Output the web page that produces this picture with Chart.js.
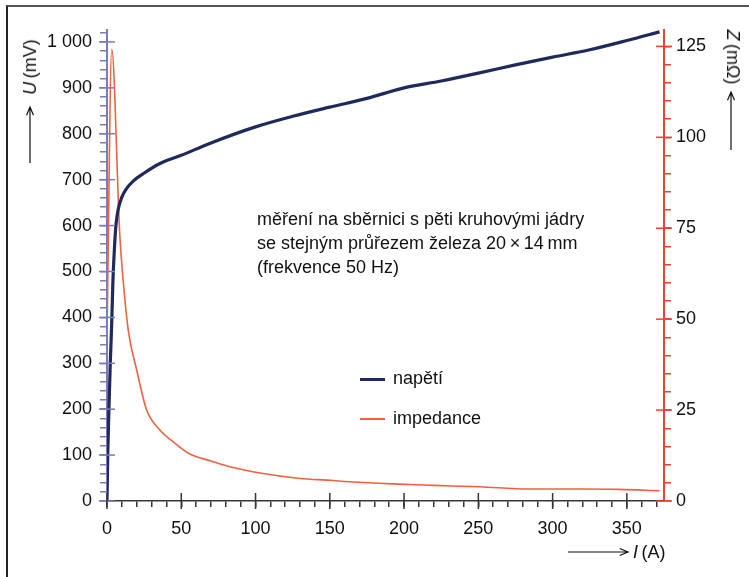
<!DOCTYPE html>
<html lang="cs">
<head>
<meta charset="utf-8">
<script src="https://cdn.jsdelivr.net/npm/chart.js@4.4.1/dist/chart.umd.min.js"></script>
<style>
  body { margin: 0; background: #fff; font-family: "Liberation Sans", Arial, sans-serif; }
  #wrap { position: relative; width: 749px; height: 577px; overflow: hidden; }
  #frame { position: absolute; left: 6px; top: 5px; right: -4px; bottom: -4px;
           border-top: 2px solid #555; border-left: 2px solid #222; }
  canvas { position: absolute; left: 0; top: 0; }
  .t { position: absolute; color: #111; font-size: 18px; white-space: nowrap; line-height: 24px; }
  .rot { transform-origin: center center; }
  .key { display: inline-block; width: 25px; vertical-align: middle; margin-right: 8px; }
</style>
</head>
<body>
<div id="wrap">
  <div id="frame"></div>
  <canvas id="chart" width="749" height="577"></canvas>

  <div class="t rot" style="left:30px;top:67px;transform:translate(-50%,-50%) rotate(-90deg);"><i>U</i>&#8201;(mV)</div>
  <div class="t rot" style="left:733px;top:57px;transform:translate(-50%,-50%) rotate(90deg);"><i>Z</i>&#8201;(mΩ)</div>
  <div class="t" style="left:633px;top:540px;"><i>I</i>&#8201;(A)</div>

  <div class="t" style="left:257px;top:207px;">měření na sběrnici s pěti kruhovými jádry<br>se stejným průřezem železa 20&#8201;×&#8201;14&#8201;mm<br>(frekvence 50 Hz)</div>

  <div class="t" style="left:360px;top:366px;"><span class="key" style="height:3px;background:#1f2a5c;"></span>napětí</div>
  <div class="t" style="left:360px;top:406px;"><span class="key" style="height:2px;background:#f4603f;"></span>impedance</div>
</div>

<script>
// napětí U (mV) podle proudu I (A)
const currentU = [0, 0.5, 1.3, 2.2, 3.1, 4, 5, 6, 7.5, 10, 13, 18, 24, 35, 50, 70, 100, 125, 150, 175, 200, 225, 250, 275, 300, 325, 350, 372];
const voltage = [0, 100, 200, 300, 380, 480, 550, 600, 635, 662, 680, 698, 712, 734, 753, 780, 815, 838, 858, 877, 900, 915, 932, 950, 967, 983, 1003, 1022];

// impedance Z (mΩ) podle proudu I (A)
const currentZ = [0, 3.2, 8.5, 10.3, 14.3, 20, 26.7, 35, 45.7, 55.8, 70, 82.7, 103, 130, 150, 163, 192, 220, 251, 284, 320, 345, 372];
const impedance = [46, 124.2, 74, 63.5, 47, 36, 25, 19.8, 15.9, 12.9, 11, 9.4, 7.7, 6.2, 5.7, 5.3, 4.7, 4.3, 3.9, 3.3, 3.3, 3.2, 2.8];

// dílky os: [od, do, krok] a krok popisků
const iTicks = [0, 370, 10];
const uTicks = [0, 1020, 20];
const zTicks = [0, 125, 5];
const iLabelStep = 50;
const uLabelStep = 100;
const zLabelStep = 25;

const blue = '#1f2a5c';
const red = '#f4603f';
const axisRed = '#f0402f';
const axisBlue = '#7b7bbb';
const axisDark = '#3a3530';

function tickList(t) {
  const out = [];
  for (let v = t[0]; v <= t[1]; v += t[2]) out.push({ value: v });
  return out;
}

function fmtU(v) {
  return v === 1000 ? '1 000' : String(v);
}

// hlavní dílky přes osu + šipky u popisků os
const axisExtras = {
  id: 'axisExtras',
  afterDraw(chart) {
    const { ctx, chartArea, scales } = chart;
    ctx.save();
    ctx.lineWidth = 1.5;

    ctx.strokeStyle = axisBlue;
    tickList(uTicks).filter(t => t.value % uLabelStep === 0).forEach(t => {
      const y = scales.y.getPixelForValue(t.value);
      ctx.beginPath();
      ctx.moveTo(chartArea.left - 8, y);
      ctx.lineTo(chartArea.left + 8, y);
      ctx.stroke();
    });

    ctx.strokeStyle = axisRed;
    tickList(zTicks).filter(t => t.value % zLabelStep === 0).forEach(t => {
      const y = scales.y1.getPixelForValue(t.value);
      ctx.beginPath();
      ctx.moveTo(chartArea.right - 8, y);
      ctx.lineTo(chartArea.right + 8, y);
      ctx.stroke();
    });

    ctx.strokeStyle = axisDark;
    tickList(iTicks).filter(t => t.value % iLabelStep === 0).forEach(t => {
      const x = scales.x.getPixelForValue(t.value);
      ctx.beginPath();
      ctx.moveTo(x, chartArea.bottom - 8);
      ctx.lineTo(x, chartArea.bottom + 8);
      ctx.stroke();
    });

    // šipky
    ctx.strokeStyle = '#111';
    ctx.lineWidth = 1.2;
    const arrow = (x1, y1, x2, y2) => {
      const a = Math.atan2(y2 - y1, x2 - x1);
      ctx.beginPath();
      ctx.moveTo(x1, y1);
      ctx.lineTo(x2, y2);
      ctx.moveTo(x2 - 9 * Math.cos(a - 0.4), y2 - 9 * Math.sin(a - 0.4));
      ctx.lineTo(x2, y2);
      ctx.lineTo(x2 - 9 * Math.cos(a + 0.4), y2 - 9 * Math.sin(a + 0.4));
      ctx.stroke();
    };
    arrow(30, 163, 30, 107);
    arrow(731, 150, 731, 92);
    arrow(568, 552, 628, 552);
    ctx.restore();
  }
};

const tickFont = { family: '"Liberation Sans", Arial, sans-serif', size: 18 };

const ctx = document.getElementById('chart').getContext('2d');
new Chart(ctx, {
  type: 'line',
  data: {
    datasets: [
      {
        label: 'napětí',
        data: currentU.map((x, i) => ({ x, y: voltage[i] })),
        yAxisID: 'y',
        borderColor: blue,
        borderWidth: 3.2,
        pointRadius: 0,
        cubicInterpolationMode: 'monotone',
        fill: false
      },
      {
        label: 'impedance',
        data: currentZ.map((x, i) => ({ x, y: impedance[i] })),
        yAxisID: 'y1',
        borderColor: red,
        borderWidth: 1.6,
        pointRadius: 0,
        cubicInterpolationMode: 'monotone',
        fill: false
      }
    ]
  },
  options: {
    responsive: false,
    animation: false,
    devicePixelRatio: 1,
    layout: { padding: { top: 30, left: 0, right: 0, bottom: 0 } },
    plugins: {
      legend: { display: false },
      tooltip: { enabled: false }
    },
    scales: {
      x: {
        type: 'linear',
        min: 0,
        max: 375,
        afterBuildTicks(s) { s.ticks = tickList(iTicks); },
        afterFit(s) { s.height = 76; },
        border: { display: true, color: axisDark, width: 1.5 },
        grid: { drawOnChartArea: false, drawTicks: true, tickLength: 6, color: axisDark, lineWidth: 1.5 },
        ticks: {
          autoSkip: false,
          maxRotation: 0,
          padding: 11,
          color: '#111',
          font: tickFont,
          callback: v => (v % iLabelStep === 0 ? String(v) : '')
        }
      },
      y: {
        position: 'left',
        min: 0,
        max: 1026,
        afterBuildTicks(s) { s.ticks = tickList(uTicks); },
        afterFit(s) { s.width = 107; },
        border: { display: true, color: axisBlue, width: 2 },
        grid: { drawOnChartArea: false, drawTicks: true, tickLength: 7, color: axisBlue, lineWidth: 1.5 },
        ticks: {
          autoSkip: false,
          padding: 8,
          color: '#111',
          font: tickFont,
          callback: v => (v % uLabelStep === 0 ? fmtU(v) : '')
        }
      },
      y1: {
        position: 'right',
        min: 0,
        max: 129.5,
        afterBuildTicks(s) { s.ticks = tickList(zTicks); },
        afterFit(s) { s.width = 85; },
        border: { display: true, color: axisRed, width: 2 },
        grid: { drawOnChartArea: false, drawTicks: true, tickLength: 7, color: axisRed, lineWidth: 1.5 },
        ticks: {
          autoSkip: false,
          padding: 5,
          color: '#111',
          font: tickFont,
          callback: v => (v % zLabelStep === 0 ? String(v) : '')
        }
      }
    }
  },
  plugins: [axisExtras]
});
</script>
</body>
</html>
